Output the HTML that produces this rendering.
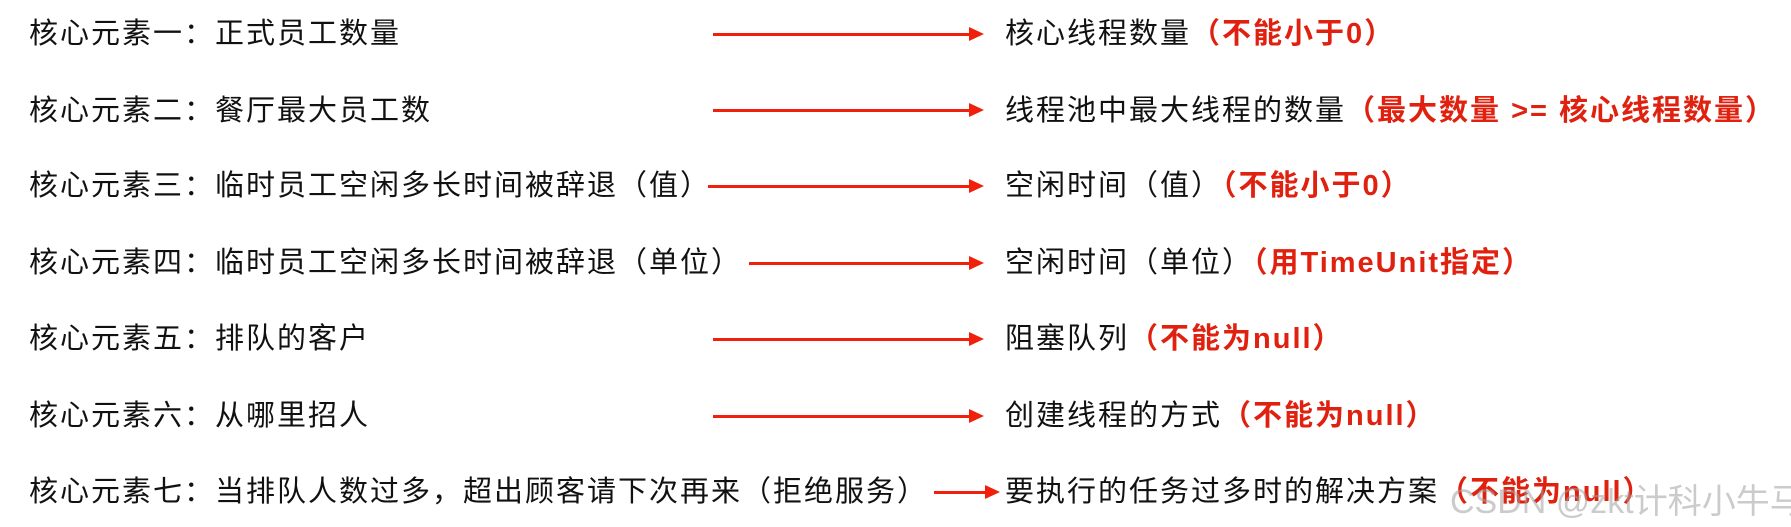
<!DOCTYPE html>
<html><head><meta charset="utf-8"><style>
body{margin:0;width:1791px;height:527px;background:#fff;position:relative;overflow:hidden;font-family:"Liberation Sans","Noto Sans CJK SC",sans-serif;}
.t{position:absolute;font-size:29px;letter-spacing:2px;color:#111;line-height:34px;white-space:nowrap;}
.r{color:#e0210f;font-weight:bold;}
.a{position:absolute;height:3px;background:#f0200c;}
.a:after{content:"";position:absolute;right:-14px;top:-6px;border-left:15px solid #f0200c;border-top:7.5px solid transparent;border-bottom:7.5px solid transparent;}
.wm{position:absolute;left:1450px;top:474px;font-size:34px;color:rgba(160,160,160,0.55);white-space:nowrap;}
</style></head><body>
<div class="t" style="left:29px;top:17px">核心元素一：正式员工数量</div>
<div class="a" style="left:713px;width:257px;top:33px"></div>
<div class="t" style="left:1005px;top:17px">核心线程数量<span class="r">（不能小于0）</span></div>

<div class="t" style="left:29px;top:94px">核心元素二：餐厅最大员工数</div>
<div class="a" style="left:713px;width:257px;top:109px"></div>
<div class="t" style="left:1005px;top:94px">线程池中最大线程的数量<span class="r">（最大数量 &gt;= 核心线程数量）</span></div>

<div class="t" style="left:29px;top:169px">核心元素三：临时员工空闲多长时间被辞退（值）</div>
<div class="a" style="left:708px;width:262px;top:185px"></div>
<div class="t" style="left:1005px;top:169px">空闲时间（值）<span class="r">（不能小于0）</span></div>

<div class="t" style="left:29px;top:246px">核心元素四：临时员工空闲多长时间被辞退（单位）</div>
<div class="a" style="left:749px;width:221px;top:262px"></div>
<div class="t" style="left:1005px;top:246px">空闲时间（单位）<span class="r">（用TimeUnit指定）</span></div>

<div class="t" style="left:29px;top:322px">核心元素五：排队的客户</div>
<div class="a" style="left:713px;width:257px;top:338px"></div>
<div class="t" style="left:1005px;top:322px">阻塞队列<span class="r">（不能为null）</span></div>

<div class="t" style="left:29px;top:399px">核心元素六：从哪里招人</div>
<div class="a" style="left:713px;width:257px;top:415px"></div>
<div class="t" style="left:1005px;top:399px">创建线程的方式<span class="r">（不能为null）</span></div>

<div class="t" style="left:29px;top:475px">核心元素七：当排队人数过多，超出顾客请下次再来（拒绝服务）</div>
<div class="a" style="left:934px;width:52px;top:491px"></div>
<div class="t" style="left:1005px;top:475px">要执行的任务过多时的解决方案<span class="r">（不能为null）</span></div>
<div class="wm">CSDN @zkt计科小牛马</div>
</body></html>
